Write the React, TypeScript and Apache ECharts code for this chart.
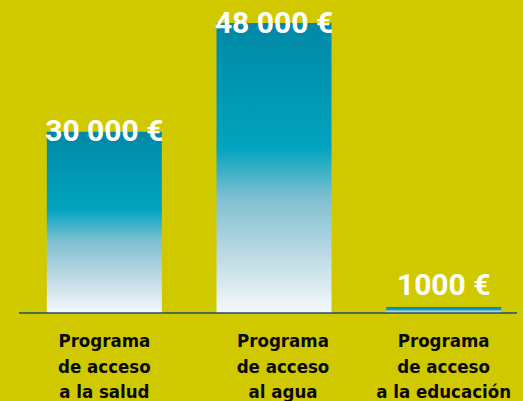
import React, { useEffect, useRef } from "react";
import * as echarts from "echarts";

const categories = [
  "Programa\nde acceso\na la salud",
  "Programa\nde acceso\nal agua",
  "Programa\nde acceso\na la educación",
];
const values = [30000, 48000, 1000];
const valueLabels = ["30 000 €", "48 000 €", "1000 €"];

export default function App() {
  const ref = useRef<HTMLDivElement>(null);
  useEffect(() => {
    if (!ref.current) return;
    const chart = echarts.init(ref.current, undefined, { renderer: "svg" });
    const gradient = new echarts.graphic.LinearGradient(0, 0, 0, 1, [
      { offset: 0, color: "#0088A6" },
      { offset: 0.43, color: "#00A4BF" },
      { offset: 0.6, color: "#7DBFD0" },
      { offset: 0.8, color: "#BCDAE4" },
      { offset: 1, color: "#F6F9FB" },
    ]);
    chart.setOption({
      animation: false,
      backgroundColor: "#D1C900",
      grid: {
        left: 19.5,
        width: 509,
        top: 23,
        bottom: 88,
        containLabel: false,
        outerBoundsMode: "none",
      },
      xAxis: {
        type: "category",
        data: categories.map((c, i) =>
          i === 1 ? { value: c, textStyle: { padding: [0, 0, 0, 18] } } : c
        ),
        axisLine: { show: false },
        axisTick: { show: false },
        axisLabel: {
          color: "#0A0A0A",
          fontFamily: "DejaVu Sans Condensed",
          fontWeight: "bold",
          fontSize: 18.5,
          lineHeight: 25.5,
          margin: 15,
          interval: 0,
        },
      },
      yAxis: {
        type: "value",
        min: 0,
        max: 48000,
        show: false,
        splitLine: { show: false },
      },
      series: [
        {
          type: "bar",
          barWidth: 115,
          data: values.map((v, i) => ({
            value: v,
            label: {
              show: true,
              position: i === 2 ? ["50%", -22] : ["50%", -1],
              align: "center",
              verticalAlign: "middle",
              formatter: () => valueLabels[i],
              color: "#FFFFFF",
              fontFamily: "Roboto",
              fontWeight: "bold",
              fontSize: 30,
            },
          })),
          itemStyle: { color: gradient },
        },
      ],
      graphic: [
        {
          type: "line",
          z: 100,
          shape: { x1: 19, y1: 313, x2: 517, y2: 313 },
          style: { stroke: "#1E4D6B", lineWidth: 1.6 },
        },
      ],
    });
    return () => chart.dispose();
  }, []);
  return (
    <div
      ref={ref}
      style={{ position: "fixed", left: 0, top: 0, width: 523, height: 401 }}
    />
  );
}
